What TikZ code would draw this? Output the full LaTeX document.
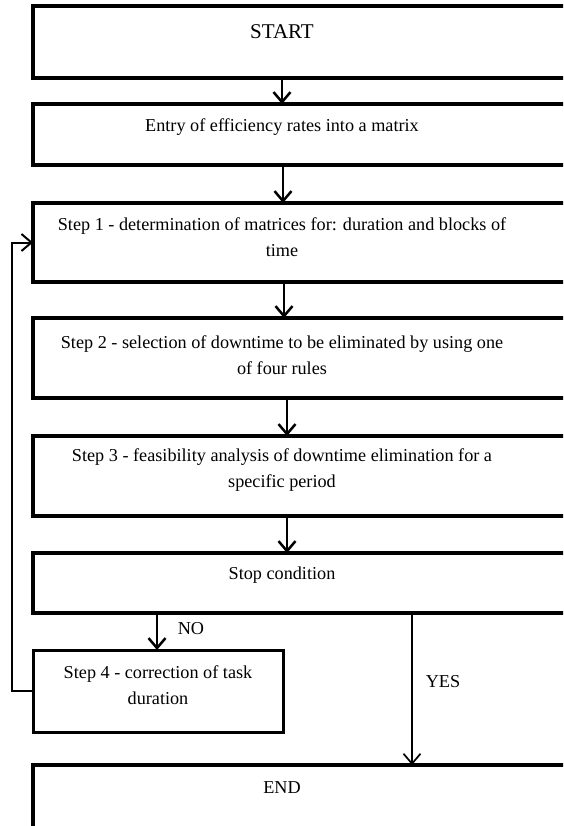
\documentclass[tikz,border=0pt]{standalone}
\usepackage{fontspec}
\setmainfont{Liberation Serif}
\usetikzlibrary{arrows.meta,calc}
\begin{document}
\begin{tikzpicture}[x=1pt,y=-1pt,
 box/.style={draw, line width=3.2pt, rectangle, inner sep=0pt, outer sep=0pt},
 txt/.style={align=center, font=\fontsize{18.2}{26}\selectfont, inner sep=0pt},
 tip/.style={-{Straight Barb[length=10pt,width=17pt]}},
 arr/.style={line width=2.5pt, tip},
 ]
\clip (0,0) rectangle (563,826);
\fill[white] (0,0) rectangle (563,826);
% boxes
\node[box, minimum width=587pt, minimum height=72pt] (bStart) at (326.5,42) {};
\node[box, minimum width=587pt, minimum height=61pt] (bEntry) at (326.5,134.5) {};
\node[box, minimum width=587pt, minimum height=79pt] (bS1) at (326.5,242.5) {};
\node[box, minimum width=587pt, minimum height=80pt] (bS2) at (326.5,358) {};
\node[box, minimum width=587pt, minimum height=80pt] (bS3) at (326.5,476) {};
\node[box, minimum width=587pt, minimum height=60pt] (bStop) at (326.5,583) {};
\node[box, line width=3pt, minimum width=250pt, minimum height=82pt] (bS4) at (158,691) {};
\node[box, minimum width=587pt, minimum height=105pt] (bEnd) at (326.5,817.5) {};
% texts
\node[txt, font=\fontsize{21}{26}\selectfont] (tStart) at (282,32) {START};
\node[txt] (tEntry) at (282,127) {Entry of efficiency rates into a matrix};
\node[txt] (tS1) at (282,237.5) {Step 1 - determination of matrices for: duration and blocks of\\time};
\node[txt] (tS2) at (282,355) {Step 2 - selection of downtime to be eliminated by using one\\of four rules};
\node[txt] (tS3) at (282,470) {Step 3 - feasibility analysis of downtime elimination for a\\specific period};
\node[txt] (tStop) at (282,575) {Stop condition};
\node[txt] (tS4) at (158,685) {Step 4 - correction of task\\duration};
\node[txt] (tEnd) at (282,788) {END};
\node[txt] (tNo) at (191,629) {NO};
\node[txt] (tYes) at (443,682) {YES};
% connector columns
\coordinate (c1) at (282,0);
\coordinate (c2) at (283,0);
\coordinate (c3) at (284,0);
\coordinate (c4) at (287,0);
\coordinate (cno) at (157,0);
\coordinate (cyes) at (412,0);
\coordinate (fbx) at (12,0);
% connectors
\draw[arr] (c1 |- bStart.south) -- (c1 |- bEntry.north);
\draw[arr] (c2 |- bEntry.south) -- (c2 |- bS1.north);
\draw[arr] (c3 |- bS1.south) -- (c3 |- bS2.north);
\draw[arr] (c4 |- bS2.south) -- (c4 |- bS3.north);
\draw[arr] (c4 |- bS3.south) -- (c4 |- bStop.north);
\draw[arr] (cno |- bStop.south) -- (cno |- bS4.north);
\draw[line width=1.7pt, tip] (cyes |- bStop.south) -- (cyes |- bEnd.north);
\draw[line width=2pt, tip] (bS4.west) -- (fbx |- bS4.west) -- (fbx |- bS1.west) -- (bS1.west);
\end{tikzpicture}
\end{document}
